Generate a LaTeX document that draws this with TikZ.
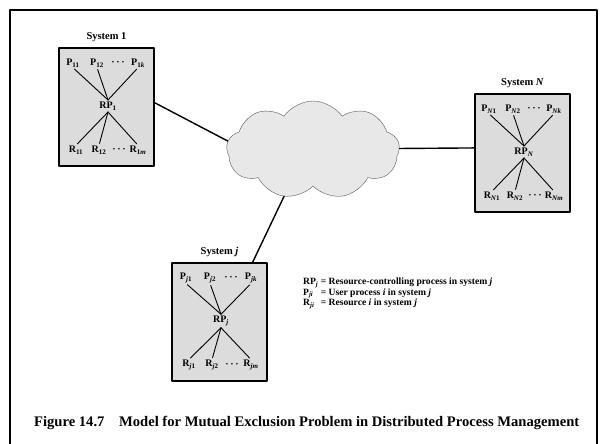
\documentclass[tikz,border=0pt]{standalone}
\usepackage{fontspec}
\setmainfont{Liberation Serif}
\usetikzlibrary{shapes.symbols}
\definecolor{boxgray}{HTML}{DCDCDC}
\definecolor{cloudgray}{HTML}{E8E8E8}
\begin{document}
\begin{tikzpicture}[x=1pt,y=-1pt,line join=round,line cap=round,font=\bfseries,
	sysbox/.style={draw,line width=1.5pt,fill=boxgray,minimum width=95pt,minimum height=118pt,inner sep=0pt},
	syslabel/.style={font=\fontsize{10.5}{12}\selectfont\bfseries,inner sep=0pt},
	proc/.style={font=\fontsize{10}{11}\selectfont\bfseries,inner sep=0.5pt},
	spoke/.style={line width=0.9pt},
	link/.style={line width=1.4pt}]
			\useasboundingbox (0,0) rectangle (600,444);
			\draw[line width=1.8pt] (10,450) -- (10,10) -- (597,10) -- (597,450);
			
			\node[cloud,draw=black!65,fill=cloudgray,cloud puffs=9,cloud puff arc=110,aspect=1.8,
				minimum width=173pt,minimum height=98pt,inner sep=0pt] (cloud) at (313,150) {};
			
			\foreach \s/\bx/\by/\n/\name in {1/59/48/1/{System 1},
				N/475/94/{\textit{N}}/{System \textit{N}},
				j/172/263/{\textit{j}}/{System \textit{j}}} {
				\node[sysbox] (s\s box) at ({\bx+47.5},{\by+59}) {};
				\node[syslabel] (s\s title) at ({\bx+47.5},{\by-11}) {\name};
				\node[proc] (s\s p1) at ({\bx+14},{\by+15}) {P\textsubscript{\n1}};
				\node[proc] (s\s p2) at ({\bx+38},{\by+15}) {P\textsubscript{\n2}};
				\node[proc] (s\s pd) at ({\bx+59},{\by+15}) {·\,·\,·};
				\node[proc] (s\s pk) at ({\bx+79},{\by+15}) {P\textsubscript{\n\textit{k}}};
				\node[proc,outer sep=1.5pt] (s\s rp) at ({\bx+49},{\by+58}) {RP\textsubscript{\n}};
				\node[proc] (s\s r1) at ({\bx+17},{\by+102}) {R\textsubscript{\n1}};
				\node[proc] (s\s r2) at ({\bx+40},{\by+102}) {R\textsubscript{\n2}};
				\node[proc] (s\s rd) at ({\bx+60},{\by+102}) {·\,·\,·};
				\node[proc] (s\s rm) at ({\bx+79},{\by+102}) {R\textsubscript{\n\textit{m}}};
				\foreach \i in {1,2,k} {
					\draw[spoke,shorten <=2pt] (s\s p\i.south) -- (s\s rp.north);
				}
				\foreach \i in {1,2,m} {
					\draw[spoke,shorten >=2pt] (s\s rp.south) -- (s\s r\i.north);
				}
			}
			
			\draw[link] (s1box.5) -- (cloud.174);
			\draw[link] (cloud.1) -- (sNbox.174);
			\draw[link] (cloud.238) -- (sjbox.61);
			
			\node[anchor=north west,inner sep=0pt,font=\fontsize{9.6}{10.5}\selectfont\bfseries] (legend) at (303,277) {%
				\begin{tabular}{@{}l@{ = }l@{}}
					RP\textsubscript{\textit{j}} & Resource-controlling process in system \textit{j}\\
					P\textsubscript{\textit{ji}} & User process \textit{i} in system \textit{j}\\
					R\textsubscript{\textit{ji}} & Resource \textit{i} in system \textit{j}
				\end{tabular}};
			
			\node[anchor=west,inner sep=0pt,font=\fontsize{14.6}{16}\selectfont\bfseries] (caption) at (34,423)
				{Figure 14.7\quad Model for Mutual Exclusion Problem in Distributed Process Management};
			
		\end{tikzpicture}
\end{document}
